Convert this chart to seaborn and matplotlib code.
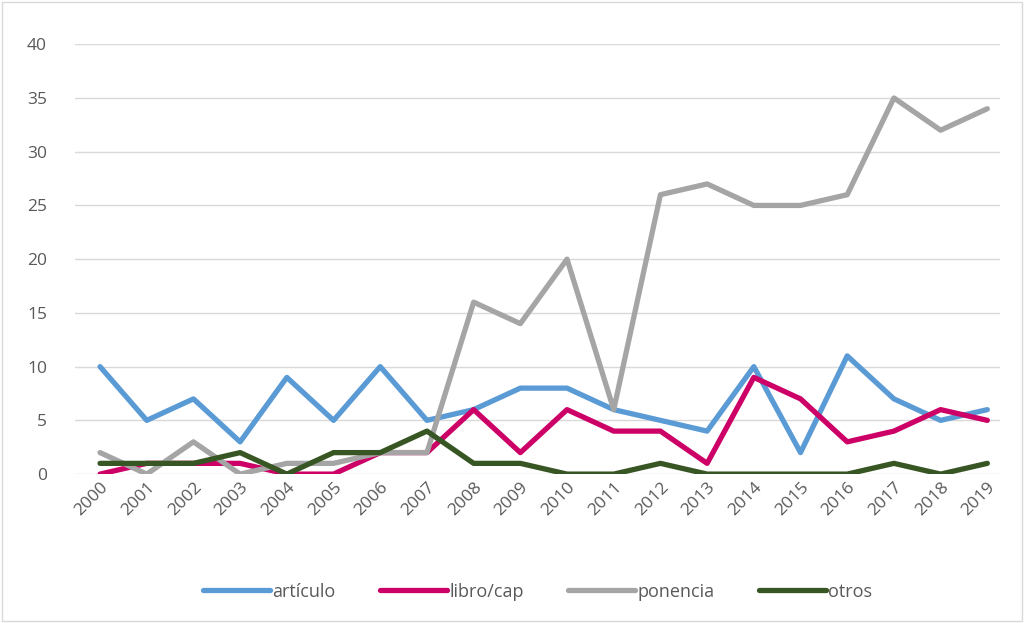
import matplotlib
matplotlib.use('Agg')
import matplotlib.pyplot as plt
import seaborn as sns
import pandas as pd

# datos
years = [str(y) for y in range(2000, 2020)]
articulo = [10, 5, 7, 3, 9, 5, 10, 5, 6, 8, 8, 6, 5, 4, 10, 2, 11, 7, 5, 6]
libro_cap = [0, 1, 1, 1, 0, 0, 2, 2, 6, 2, 6, 4, 4, 1, 9, 7, 3, 4, 6, 5]
ponencia = [2, 0, 3, 0, 1, 1, 2, 2, 16, 14, 20, 6, 26, 27, 25, 25, 26, 35, 32, 34]
otros = [1, 1, 1, 2, 0, 2, 2, 4, 1, 1, 0, 0, 1, 0, 0, 0, 0, 1, 0, 1]

series_names = ['artículo', 'libro/cap', 'ponencia', 'otros']
colors = ['#5B9BD5', '#CC0066', '#A5A5A5', '#375623']

df = pd.DataFrame({'year': years, 'artículo': articulo, 'libro/cap': libro_cap,
                   'ponencia': ponencia, 'otros': otros})
long = df.melt(id_vars='year', var_name='serie', value_name='n')

sns.set_style('white')
plt.rcParams['font.family'] = ['Open Sans', 'DejaVu Sans']

fig = plt.figure(figsize=(10.25, 6.23), dpi=100)
ax = fig.add_axes([0.073, 0.239, 0.903, 0.69])

sns.lineplot(data=long, x='year', y='n', hue='serie', hue_order=series_names,
             palette=colors, linewidth=3.8, sort=False, ax=ax)

ax.set_ylim(0, 40)
ax.set_xlim(-0.54, 19.28)
ax.set_yticks(range(0, 41, 5))
ax.yaxis.grid(True, color='#D9D9D9', linewidth=1)
ax.set_axisbelow(True)
for s in ax.spines.values():
    s.set_visible(False)
ax.set_xlabel('')
ax.set_ylabel('')
ax.tick_params(axis='both', length=0, labelsize=12.5, labelcolor='#595959')
ax.tick_params(axis='y', pad=20)
ax.tick_params(axis='x', pad=4)
plt.setp(ax.get_xticklabels(), rotation=45, ha='right', rotation_mode='anchor')

ax.legend(loc='upper center', bbox_to_anchor=(0.5, -0.215), ncol=4, frameon=False,
          fontsize=13, handlelength=3.7, columnspacing=2.45, handletextpad=0.15,
          labelcolor='#595959')

# borde del gráfico
fig.patches.append(plt.Rectangle((0.002, 0.003), 0.995, 0.993, transform=fig.transFigure,
                                 fill=False, edgecolor='#D9D9D9', linewidth=1))

plt.savefig('out.png', dpi=100)
